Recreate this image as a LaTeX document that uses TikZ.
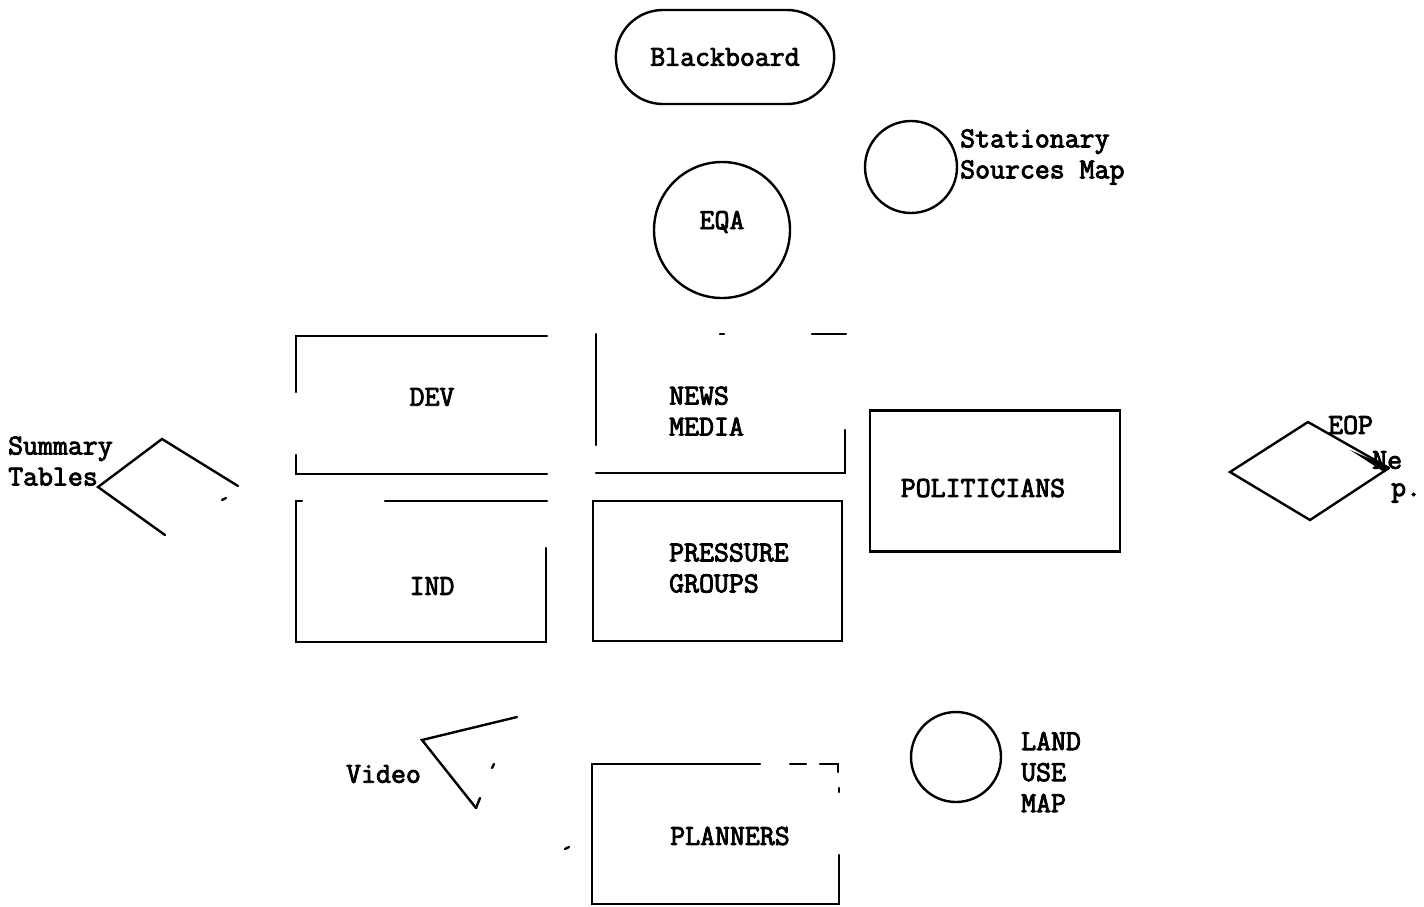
\documentclass[tikz,border=0pt]{standalone}
\usepackage{fontspec}
\setmonofont[AutoFakeBold=3]{Latin Modern Mono}
\usetikzlibrary{shapes.misc,shapes.geometric}
\begin{document}
\begin{tikzpicture}[x=1pt,y=-1pt,
  every node/.style={font=\ttfamily\bfseries\fontsize{29}{31}\selectfont},
  ln/.style={line width=2.4pt,line cap=round},
  lbl/.style={anchor=west,align=left,inner sep=0pt},
  circ/.style={circle,draw,line width=2.4pt,inner sep=0pt}]
\useasboundingbox (0,0) rectangle (1424,906);
% Blackboard
\node[rounded rectangle,draw,line width=2.4pt,minimum width=225pt,minimum height=94pt] (bb) at (725,57) {Blackboard};
% EQA
\node[circ,minimum size=136pt] (eqa) at (722,230) {};
\node (eqat) at (722,222) {EQA};
% Stationary sources map
\node[circ,minimum size=92pt] (ssm) at (911,167) {};
\node[lbl] (ssmt) at (960,157) {Stationary\\Sources Map};
% DEV
\node (dev) at (432,397) {DEV};
\draw[ln] (547,336) -- (296,336) -- (296,392);
\draw[ln] (296,455) -- (296,474) -- (547,474);
% NEWS MEDIA
\node[lbl] (news) at (669,411) {NEWS\\MEDIA};
\draw[ln] (596,334) -- (596,445);
\draw[ln] (596,473) -- (845,473) -- (845,430);
\draw[ln] (812,334) -- (846,334);
\draw[ln] (720,334) -- (724,334);
% IND
\node (ind) at (432,586) {IND};
\draw[ln] (385,501) -- (547,501);
\draw[ln] (296,501) -- (302,501);
\draw[ln] (296,501) -- (296,642) -- (546,642) -- (546,548);
% PRESSURE GROUPS
\node[lbl] (pg) at (669,568) {PRESSURE\\GROUPS};
\draw[ln] (593,501) rectangle (842,641);
% POLITICIANS
\node[draw,line width=2.4pt,minimum width=250pt,minimum height=141pt] (pol) at (995,481) {};
\node (polt) at (983,488) {POLITICIANS};
% PLANNERS
\node (plan) at (730,836) {PLANNERS};
\draw[ln] (760,764) -- (592,764) -- (592,904) -- (839,904) -- (839,855);
\draw[ln] (790,764) -- (806,764);
\draw[ln] (820,764) -- (838,764) -- (838,772);
\draw[ln] (839,788) -- (839,792);
\draw[ln] (565,849) -- (569,847);
% LAND USE MAP
\node[circ,minimum size=90pt] (lum) at (956,757) {};
\node[lbl] (lumt) at (1021,772) {LAND\\USE\\MAP};
% Summary tables
\node[lbl] (st) at (8,461) {Summary\\Tables};
\coordinate (stl) at (98,487);
\coordinate (stt) at (162,439);
\coordinate (str) at (238,486);
\coordinate (stb) at (165,535);
\draw[ln] (str) -- (stt) -- (stl) -- (stb);
\draw[ln] (222,500) -- (226,498);
% Video
\node[lbl] (vid) at (346,774) {Video};
\coordinate (va) at (422,740);
\coordinate (vb) at (517,717);
\coordinate (vc) at (476,808);
\draw[ln] (vb) -- (va) -- (vc);
\draw[ln] (476,808) -- (480,798);
\draw[ln] (492,768) -- (494,764);
% EOP diamond
\coordinate (el) at (1230,472);
\coordinate (et) at (1308,422);
\coordinate (er) at (1389,468);
\coordinate (eb) at (1310,520);
\draw[ln] (er) -- (et) -- (el) -- (eb) -- (er);
\fill (1350,450) -- (1389,467) -- (1384,472) -- cycle;
\node[lbl] (eop) at (1328,425) {EOP};
\node[lbl] (ne) at (1372,460) {Ne};
\node[lbl] (p) at (1391,493) {p.};
\end{tikzpicture}
\end{document}
